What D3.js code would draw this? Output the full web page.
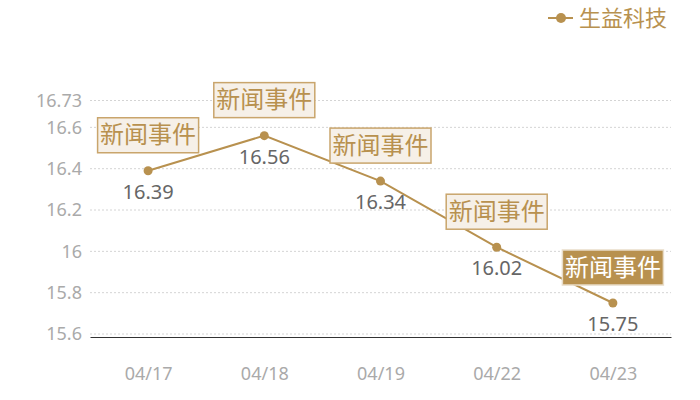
<!DOCTYPE html>
<html>
<head>
<meta charset="utf-8">
<script src="https://cdn.jsdelivr.net/npm/d3@7"></script>
<style>
  body { margin: 0; background: #fff; }
  text { font-family: "Noto Sans", "Noto Sans CJK SC", sans-serif; }
</style>
</head>
<body>
<div id="chart"></div>
<script>
// data
var dates = ["04/17", "04/18", "04/19", "04/22", "04/23"];
var prices = [16.39, 16.56, 16.34, 16.02, 15.75];
var eventLabels = ["新闻事件", "新闻事件", "新闻事件", "新闻事件", "新闻事件"];
var yTicks = [15.6, 15.8, 16, 16.2, 16.4, 16.6, 16.73];
var seriesName = "生益科技";

var svgWidth = 700, svgHeight = 400;
var margin = { top: 100.5, right: 29, bottom: 66, left: 90 };
var width = svgWidth - margin.left - margin.right;
var height = 233.5;

var gold = "#b8914f";

var svg = d3.select("#chart").append("svg")
  .attr("width", svgWidth)
  .attr("height", svgHeight);

var chartGroup = svg.append("g")
  .attr("transform", `translate(${margin.left}, ${margin.top})`);

var xScale = d3.scalePoint()
  .domain(dates)
  .range([0, width])
  .padding(0.5);

var yScale = d3.scaleLinear()
  .domain([15.6, 16.73])
  .range([height, 0]);

// grid lines
chartGroup.selectAll(".grid")
  .data(yTicks)
  .enter()
  .append("line")
  .attr("x1", 0)
  .attr("x2", width)
  .attr("y1", d => yScale(d))
  .attr("y2", d => yScale(d))
  .attr("stroke", "#d4d4d4")
  .attr("stroke-dasharray", "2,2");

// y axis labels
var leftAxis = d3.axisLeft(yScale).tickValues(yTicks).tickSize(0).tickPadding(8)
  .tickFormat(d => String(d));
var yAxis = chartGroup.append("g").call(leftAxis);
yAxis.select(".domain").remove();
yAxis.selectAll("text").attr("fill", "#aaa").attr("font-size", 18);

// x axis (drawn a few px below the 15.6 grid line)
var bottomAxis = d3.axisBottom(xScale).tickSize(0);
var xAxis = chartGroup.append("g")
  .attr("transform", `translate(0, ${height + 3})`)
  .call(bottomAxis);
xAxis.select(".domain").attr("stroke", "#333");
xAxis.selectAll("text").attr("fill", "#aaa").attr("font-size", 18)
  .attr("y", 43).attr("dy", 0);

// line
var line = d3.line()
  .x((d, i) => xScale(dates[i]))
  .y(d => yScale(d));

chartGroup.append("path")
  .datum(prices)
  .attr("d", line)
  .attr("fill", "none")
  .attr("stroke", gold)
  .attr("stroke-width", 2);

chartGroup.selectAll(".dot")
  .data(prices)
  .enter()
  .append("circle")
  .attr("cx", (d, i) => xScale(dates[i]))
  .attr("cy", d => yScale(d))
  .attr("r", 4.5)
  .attr("fill", gold);

// value labels
chartGroup.selectAll(".val")
  .data(prices)
  .enter()
  .append("text")
  .attr("x", (d, i) => xScale(dates[i]))
  .attr("y", d => yScale(d) + 28)
  .attr("text-anchor", "middle")
  .attr("fill", "#666")
  .attr("font-size", 20)
  .text(d => d.toFixed(2));

// event annotations
var boxW = 101, boxH = 35;
var ann = chartGroup.selectAll(".ann")
  .data(prices)
  .enter()
  .append("g")
  .attr("transform", (d, i) => `translate(${xScale(dates[i]) - boxW / 2}, ${yScale(d) - 18 - boxH})`);

ann.append("rect")
  .attr("width", boxW)
  .attr("height", boxH)
  .attr("fill", (d, i) => i === prices.length - 1 ? gold : "#f6f0e8")
  .attr("stroke", (d, i) => i === prices.length - 1 ? "#e8dcc8" : "#c9a56c")
  .attr("stroke-width", 1.5);

ann.append("text")
  .attr("x", boxW / 2)
  .attr("y", boxH / 2 + 8)
  .attr("text-anchor", "middle")
  .attr("font-size", 24)
  .attr("font-family", "Noto Sans CJK SC")
  .attr("fill", (d, i) => i === prices.length - 1 ? "#fff" : gold)
  .text((d, i) => eventLabels[i]);

// legend
var legend = svg.append("g").attr("transform", "translate(548, 18)");
legend.append("line")
  .attr("x1", 0).attr("x2", 25)
  .attr("stroke", gold).attr("stroke-width", 2);
legend.append("circle")
  .attr("cx", 13).attr("r", 5).attr("fill", gold);
legend.append("text")
  .attr("x", 31).attr("y", 8)
  .attr("font-size", 22)
  .attr("font-family", "Noto Sans CJK SC")
  .attr("fill", gold)
  .text(seriesName);
</script>
</body>
</html>
